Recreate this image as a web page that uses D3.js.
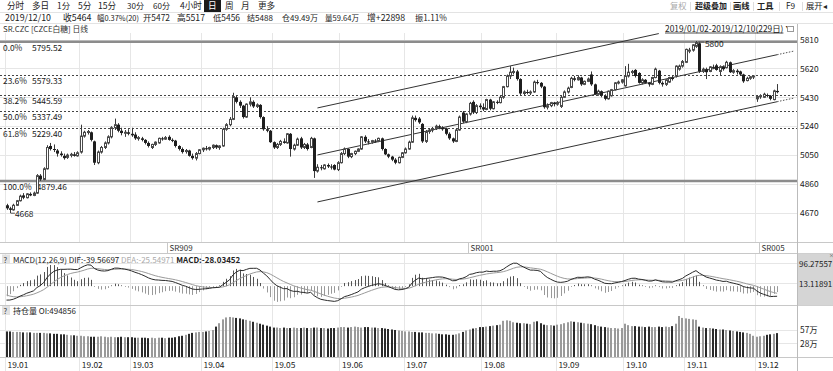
<!DOCTYPE html>
<html><head><meta charset="utf-8">
<script src="https://cdn.jsdelivr.net/npm/d3@7/dist/d3.min.js"></script>
<style>
html,body{margin:0;padding:0;background:#fff;}
svg{display:block;font-family:"Noto Sans CJK SC","Noto Sans",sans-serif;}
</style></head><body>
<svg id="c" width="833" height="371"></svg>
<script>
// ---------- DATA ----------
const monthLabels = ['19.01','19.02','19.03','19.04','19.05','19.06','19.07','19.08','19.09','19.10','19.11','19.12'];
const monthStart  = [0,22,37,58,79,99,118,141,163,183,201,222];

const opens = [
 4720,4700,4690,4720,4750,4785,4770,4795,4785,4800,4915,4890,4960,5110,5090,5080,5060,5045,5035,5050,5055,5045,
 5070,5175,5200,5200,5140,5000,5070,5100,5130,5170,5230,5250,5210,5195,5200,
 5190,5185,5160,5160,5150,5130,5100,5120,5130,5160,5155,5170,5150,5145,5110,5090,5075,5080,5045,5030,5060,
 5085,5095,5090,5100,5115,5100,5110,5220,5250,5285,5430,5400,5375,5300,5385,5400,5370,5380,5300,5220,5210,
 5135,5100,5120,5140,5130,5190,5090,5115,5160,5100,5120,5100,5160,4945,4970,4960,4985,4975,4985,4955,
 5000,5060,5090,5040,5060,5075,5090,5170,5140,5135,5145,5140,5160,5090,5055,5040,5020,5000,5035,
 5065,5090,5135,5295,5290,5255,5140,5205,5215,5225,5240,5230,5225,5190,5160,5140,5215,5330,5270,5320,5400,5330,5375,
 5365,5350,5415,5355,5400,5395,5430,5500,5570,5595,5600,5550,5455,5465,5460,5465,5530,5525,5500,5365,5375,5395,
 5385,5370,5430,5465,5495,5555,5545,5560,5515,5535,5580,5515,5450,5470,5440,5420,5440,5480,5525,5530,
 5505,5570,5595,5610,5590,5525,5545,5525,5515,5560,5605,5525,5515,5530,5560,5570,5615,5635,
 5660,5735,5740,5765,5785,5600,5615,5600,5630,5640,5600,5630,5625,5660,5595,5605,5600,5580,5540,5555,5565,
 5420,5435,5430,5445,5440,5415,5472];
const highs = [
 4730,4710,4730,4755,4790,4800,4800,4805,4810,4925,4925,4970,5115,5130,5120,5090,5075,5060,5060,5065,5070,5075,
 5250,5210,5215,5205,5145,5080,5110,5140,5180,5240,5290,5260,5230,5215,5220,
 5230,5200,5175,5170,5155,5140,5125,5140,5165,5170,5175,5180,5160,5150,5115,5100,5090,5085,5060,5070,5090,
 5100,5110,5105,5120,5120,5115,5230,5260,5300,5460,5440,5410,5380,5390,5430,5410,5390,5385,5305,5240,5215,
 5140,5130,5150,5160,5195,5195,5125,5165,5170,5130,5130,5170,5165,4990,4985,4990,4995,4990,4990,5010,
 5070,5100,5095,5065,5080,5095,5175,5180,5155,5150,5155,5165,5165,5095,5060,5045,5030,5040,5070,
 5100,5145,5310,5310,5300,5260,5215,5225,5235,5250,5250,5240,5230,5200,5165,5225,5310,5340,5325,5400,5410,5385,5390,
 5390,5420,5420,5405,5410,5440,5505,5580,5635,5625,5610,5555,5475,5480,5475,5540,5545,5530,5505,5390,5400,5400,
 5405,5440,5475,5500,5565,5570,5575,5565,5540,5560,5600,5520,5480,5475,5450,5475,5485,5530,5540,5550,
 5635,5650,5610,5615,5595,5555,5550,5530,5565,5625,5610,5535,5550,5565,5570,5640,5645,5675,
 5750,5755,5780,5800,5795,5625,5625,5635,5645,5650,5640,5640,5670,5665,5615,5615,5605,5585,5565,5570,5575,
 5445,5450,5460,5455,5445,5480,5517];
const lows = [
 4690,4668,4685,4715,4745,4760,4765,4780,4780,4795,4880,4885,4955,5080,5070,5040,5040,5020,5025,5035,5040,5040,
 5060,5165,5185,5140,4985,4990,5060,5090,5120,5160,5215,5200,5180,5170,5180,
 5170,5150,5145,5140,5120,5100,5090,5110,5125,5145,5150,5145,5135,5100,5080,5060,5060,5040,5020,5015,5055,
 5070,5080,5080,5090,5090,5085,5105,5210,5240,5280,5390,5360,5290,5295,5370,5360,5360,5290,5210,5200,5130,
 5090,5090,5110,5125,5125,5040,5080,5110,5090,5090,5080,5095,4900,4935,4950,4955,4965,4955,4950,4945,
 4995,5050,5030,5030,5050,5070,5085,5130,5120,5125,5130,5135,5080,5050,5030,5010,4990,4995,5030,
 5060,5085,5130,5270,5255,5130,5130,5190,5200,5215,5220,5210,5180,5150,5130,5135,5210,5260,5260,5310,5320,5320,5350,
 5340,5345,5345,5350,5385,5390,5420,5495,5550,5580,5540,5445,5440,5450,5445,5460,5515,5490,5355,5350,5365,5370,
 5375,5360,5425,5455,5490,5535,5540,5505,5510,5530,5505,5445,5440,5430,5410,5415,5435,5475,5515,5520,
 5500,5560,5580,5560,5520,5515,5520,5500,5510,5555,5515,5500,5505,5525,5540,5560,5605,5625,
 5655,5720,5730,5755,5590,5590,5550,5595,5615,5605,5575,5605,5620,5590,5585,5580,5570,5525,5535,5545,5550,
 5400,5420,5425,5430,5410,5410,5456];
const closes = [
 4700,4690,4720,4750,4780,4770,4795,4785,4800,4915,4890,4960,5100,5090,5085,5060,5050,5030,5050,5055,5045,5065,
 5175,5200,5205,5150,5000,5070,5100,5130,5170,5230,5250,5210,5195,5200,5190,
 5180,5160,5165,5150,5130,5110,5120,5135,5160,5155,5165,5150,5145,5110,5090,5070,5080,5045,5030,5060,5085,
 5095,5090,5100,5115,5100,5110,5220,5250,5285,5435,5400,5375,5300,5385,5400,5370,5380,5300,5220,5210,5135,
 5100,5120,5140,5130,5190,5090,5115,5155,5100,5120,5090,5160,4945,4970,4965,4985,4975,4970,4955,5000,
 5060,5090,5040,5060,5075,5090,5170,5140,5135,5145,5140,5160,5090,5055,5040,5020,5000,5035,5065,
 5090,5135,5295,5280,5265,5140,5205,5215,5225,5240,5230,5220,5190,5160,5140,5215,5300,5270,5320,5390,5330,5375,5365,
 5350,5415,5355,5400,5395,5430,5500,5570,5595,5600,5550,5455,5465,5460,5465,5530,5525,5500,5365,5375,5395,5385,
 5395,5430,5465,5490,5555,5545,5560,5515,5535,5550,5515,5450,5470,5440,5420,5470,5480,5525,5530,5545,
 5570,5595,5600,5570,5525,5545,5525,5515,5560,5615,5525,5515,5545,5560,5550,5635,5635,5665,
 5745,5740,5775,5790,5600,5615,5595,5630,5625,5610,5630,5615,5660,5595,5605,5595,5580,5535,5555,5565,5570,
 5435,5440,5450,5440,5420,5472,5464];
// open interest, unit 万
const openInterest = [
 53,53,52,52,52,51,51,51,50,50,50,50,49,49,48,48,47,47,46,45,45,44,
 44,43,43,42,42,42,43,42,41,42,41,41,42,41,41,
 41,40,40,40,40,39,40,39,40,40,39,40,40,41,43,44,46,48,50,51,52,
 52,53,54,56,63,70,78,82,83,82,81,80,78,77,75,73,71,69,67,65,63,
 61,61,60,61,60,60,61,60,60,61,60,60,61,61,60,60,59,60,60,61,
 62,62,61,62,63,62,61,62,62,61,61,60,60,59,58,57,56,55,54,
 53,53,52,52,51,51,50,50,49,49,48,47,47,46,46,47,49,52,55,57,59,60,62,
 62,63,64,65,66,67,75,76,75,72,71,70,70,69,68,73,74,70,67,66,66,65,
 67,68,70,72,74,73,72,71,70,69,68,66,64,63,62,61,60,60,59,60,
 69,66,64,64,63,63,62,63,62,62,63,62,63,62,64,69,85,81,
 80,79,78,77,63,61,60,60,59,58,57,57,56,55,54,53,52,51,50,48,44,
 42,43,44,46,47,48,49.49];

const priceTicks = [5810,5620,5430,5240,5050,4860,4670];
const fibPct = ['0.0%','23.6%','38.2%','50.0%','61.8%','100.0%'];
const fibVal = [5795.52,5579.33,5445.59,5337.49,5229.40,4879.46];
const contractNames = ['SR909','SR001','SR005'];
const contractStart = [48,137,223];
const macdTicks = [96.27557,13.11891];
const oiTicks = [57,28];
const oiTickLabels = ['57万','28万'];
// regression channel (index, price)
const chanMid   = [[92,5051],[228,5710]];
const chanMidExt= [[228,5710],[233,5734]];
const chanUpper = [[92,5360],[193,5849]];
const chanLower = [[92,4742],[228,5401]];
const chanLowExt= [[228,5401],[233,5425]];
// MACD starting state carried over from 2018
const macdSeed = {ema12Off:40, ema26Off:98, dea:-37};

// [text, left, right]
const toolbarLeft = [['分时',7,25],['多日',32,50],['1分',57,70],['5分',78,92],['15分',98,117],['30分',127,144],['60分',153,170],['4小时',180,203],['日',208,218],['周',225,234],['月',241,250],['更多',258,276]];
const toolbarRight = [['复权',670,687,'#aaa','normal'],['超级叠加',695,727,'#222','bold'],['画线',733,750,'#222','bold'],['工具',757,774,'#222','bold'],['F9',786,796,'#222','normal'],['展开◂',806,832,'#222','normal']];
const infoItems = [['2019/12/10',5,59],['收5464',63,92],['幅0.37%(20)',97,139],['开5472',143,170],['高5517',177,205],['低5456',213,240],['结5488',247,273],['仓49.49万',282,318],['量59.64万',325,359],['增+22898',367,408],['振1.11%',415,447]];

// ---------- LAYOUT ----------
const svg = d3.select('#c');
const R = 797;
const mainTop = 33, mainBot = 242, conBot = 253, macdBot = 305, oiBot = 357;
const X = d3.scaleLinear().domain([0, closes.length-1]).range([6.5, 777.1]);
const Y = d3.scaleLinear().domain([4670,5810]).range([212.9,39.5]);
const YM = d3.scaleLinear().domain([13.11891,96.27557]).range([283,263]);
const YO = d3.scaleLinear().domain([0,57]).range([oiBot,329.5]);
const px = v => Math.round(v)+0.5;

svg.append('rect').attr('width',833).attr('height',371).attr('fill','#fff');

// shrink the font of a text until it fits its span
function fitText(g, d, y, size, fill, weight){
  const t = g.append('text').attr('x',d[1]).attr('y',y).attr('font-size',size).attr('fill',fill||'#222')
    .attr('font-weight',weight||'normal').text(d[0]);
  const w = t.node().getComputedTextLength(), span = d[2]-d[1];
  if (w > span) t.attr('font-size', size*span/w);
  return t;
}

// toolbar
const tb = svg.append('g');
tb.append('rect').attr('x',204).attr('y',0).attr('width',17).attr('height',12).attr('fill','#1a1a1a');
toolbarLeft.forEach(d=>fitText(tb,d,9.3,8.6,d[0]==='日'?'#fff':'#222'));
toolbarRight.forEach(d=>fitText(tb,d,9.3,8.3,d[3],d[4]));
[690,730,753,779,802].forEach(x=>svg.append('line').attr('x1',x+.5).attr('x2',x+.5).attr('y1',2).attr('y2',11).attr('stroke','#ddd'));
svg.append('line').attr('x1',0).attr('x2',833).attr('y1',12.5).attr('y2',12.5).attr('stroke','#e3e3e3');
// info line
const ig = svg.append('g');
infoItems.forEach(d=>fitText(ig,d,21.2,8.8,'#222'));
svg.append('line').attr('x1',0).attr('x2',833).attr('y1',23.5).attr('y2',23.5).attr('stroke','#e3e3e3');

// month grid lines
const grid = svg.append('g').attr('stroke','#e6e6e6');
monthStart.forEach(i=>{
  const x = px(X(i)-1.7);
  grid.append('line').attr('x1',x).attr('x2',x).attr('y1',mainTop).attr('y2',mainBot);
  grid.append('line').attr('x1',x).attr('x2',x).attr('y1',conBot).attr('y2',371);
});
// price grid
priceTicks.forEach(v=>grid.append('line').attr('x1',0).attr('x2',R).attr('y1',px(Y(v))).attr('y2',px(Y(v))));
macdTicks.forEach(v=>grid.append('line').attr('x1',0).attr('x2',R).attr('y1',px(YM(v))).attr('y2',px(YM(v))));
oiTicks.forEach(v=>grid.append('line').attr('x1',0).attr('x2',R).attr('y1',px(YO(v))).attr('y2',px(YO(v))));

// title
svg.append('text').attr('x',3).attr('y',32).attr('font-size',7.8).attr('fill','#333').text('SR.CZC [CZCE白糖] 日线');

// panel separators
const sep = svg.append('g').attr('stroke','#c8c8c8');
[mainBot,conBot,macdBot,oiBot].forEach(y=>sep.append('line').attr('x1',0).attr('x2',833).attr('y1',y+.5).attr('y2',y+.5));
svg.append('rect').attr('x',R).attr('y',conBot+0.5).attr('width',36).attr('height',macdBot-conBot).attr('fill','#d5d5d5');
svg.append('line').attr('x1',R+.5).attr('x2',R+.5).attr('y1',24).attr('y2',371).attr('stroke','#bbb');

// fib lines
fibVal.forEach((v,k)=>{
  const y = Y(v);
  const solid = (k===0||k===fibVal.length-1);
  svg.append('line').attr('x1',0).attr('x2',R).attr('y1',solid?y:px(y)).attr('y2',solid?y:px(y))
    .attr('stroke',solid?'#8c8c8c':'#444').attr('stroke-width',solid?2.6:1)
    .attr('stroke-dasharray',solid?null:'2,2');
  const t1 = svg.append('text').attr('x',3).attr('y',y+9).attr('font-size',8.4).attr('fill','#222').text(fibPct[k]);
  const w = t1.node().getComputedTextLength();
  svg.append('text').attr('x',Math.max(32,3+w+5)).attr('y',y+9).attr('font-size',8.4).attr('fill','#222').text(fibVal[k].toFixed(2));
});

// channel
const cl = d3.line().x(d=>X(d[0])).y(d=>Y(d[1]));
[chanMid,chanUpper,chanLower].forEach(s=>svg.append('path').attr('d',cl(s)).attr('fill','none').attr('stroke','#333').attr('stroke-width',1));
[chanMidExt,chanLowExt].forEach(s=>svg.append('path').attr('d',cl(s)).attr('fill','none').attr('stroke','#555').attr('stroke-width',1).attr('stroke-dasharray','1.5,1.5'));

// candles
const data = closes.map((c,i)=>({i,o:opens[i],h:highs[i],l:lows[i],c}));
const cg = svg.append('g').selectAll('g').data(data).join('g');
cg.append('line').attr('x1',d=>Math.round(X(d.i))+0.5).attr('x2',d=>Math.round(X(d.i))+0.5)
  .attr('y1',d=>Y(d.h)).attr('y2',d=>Y(d.l)).attr('stroke','#3a3a3a').attr('stroke-width',1);
cg.append('rect')
  .attr('x',d=>d.c>=d.o? Math.round(X(d.i))-0.5 : Math.round(X(d.i))-1)
  .attr('width',d=>d.c>=d.o?2:3)
  .attr('y',d=>Y(Math.max(d.o,d.c)))
  .attr('height',d=>Math.max(1,Math.abs(Y(d.o)-Y(d.c))))
  .attr('fill',d=>d.c>=d.o?'#fff':'#1e1e1e')
  .attr('stroke',d=>d.c>=d.o?'#4a4a4a':'none').attr('stroke-width',1);

// extreme labels
const iMax = d3.maxIndex(highs), iMin = d3.minIndex(lows);
svg.append('line').attr('x1',X(iMax)+2).attr('x2',X(iMax)+8).attr('y1',Y(highs[iMax])+1).attr('y2',Y(highs[iMax])+1).attr('stroke','#555');
svg.append('text').attr('x',X(iMax)+9).attr('y',Y(highs[iMax])+5.5).attr('font-size',8.4).attr('fill','#222').text(highs[iMax]);
svg.append('line').attr('x1',X(iMin)+1).attr('x2',X(iMin)+5).attr('y1',Y(lows[iMin])).attr('y2',Y(lows[iMin])).attr('stroke','#555');
svg.append('text').attr('x',X(iMin)+5).attr('y',Y(lows[iMin])+3.5).attr('font-size',8.4).attr('fill','#222').text(lows[iMin]);

// date range label
const dr = svg.append('text').attr('x',665).attr('y',31.5).attr('font-size',8.4).attr('fill','#222').text('2019/01/02-2019/12/10(229日)');
const drw = dr.node().getComputedTextLength();
svg.append('line').attr('x1',665).attr('x2',665+drw).attr('y1',33).attr('y2',33).attr('stroke','#222').attr('stroke-width',0.8);
svg.append('text').attr('x',667+drw).attr('y',31).attr('font-size',6.5).attr('fill','#333').text('▼');
svg.append('rect').attr('x',787.5).attr('y',26.5).attr('width',6).attr('height',5).attr('fill','#fff').attr('stroke','#999');

// price axis labels
svg.append('g').attr('font-size',8.4).attr('fill','#222').selectAll('text').data(priceTicks).join('text')
  .attr('x',800).attr('y',d=>Y(d)+3.2).text(d=>d);

// contract row
contractNames.forEach((n,k)=>{
  const x = px(X(contractStart[k])-1.7);
  svg.append('line').attr('x1',x).attr('x2',x).attr('y1',mainBot).attr('y2',conBot).attr('stroke','#c8c8c8');
  svg.append('text').attr('x',x+2).attr('y',250.5).attr('font-size',8).attr('fill','#333').text(n);
});

// MACD computation (12,26,9)
const a12 = 2/13, a26 = 2/27, a9 = 2/10;
let e12 = closes[0]+macdSeed.ema12Off, e26 = closes[0]+macdSeed.ema26Off, dea = macdSeed.dea;
const difArr=[], deaArr=[], histArr=[];
closes.forEach((c,i)=>{
  if(i>0){ e12 = e12 + a12*(c-e12); e26 = e26 + a26*(c-e26); }
  const dif = e12-e26;
  if(i>0) dea = dea + a9*(dif-dea);
  difArr.push(dif); deaArr.push(dea); histArr.push(2*(dif-dea));
});
const mg = svg.append('g');
mg.selectAll('line').data(histArr).join('line')
  .attr('x1',(d,i)=>Math.round(X(i))+0.5).attr('x2',(d,i)=>Math.round(X(i))+0.5)
  .attr('y1',YM(0)).attr('y2',d=>Math.abs(YM(d)-YM(0))<0.8?YM(0)+ (d>=0?-0.8:0.8):YM(d))
  .attr('stroke',d=>d>=0?'#555':'#999').attr('stroke-width',1);
const ml = d3.line().x((d,i)=>X(i)).y(d=>YM(d));
svg.append('path').attr('d',ml(deaArr)).attr('fill','none').attr('stroke','#9a9a9a').attr('stroke-width',1);
svg.append('path').attr('d',ml(difArr)).attr('fill','none').attr('stroke','#2a2a2a').attr('stroke-width',1);

// MACD header
function qbox(y){
  svg.append('rect').attr('x',2).attr('y',y-8).attr('width',8).attr('height',9).attr('fill','#e2e2e2');
  svg.append('text').attr('x',3.5).attr('y',y).attr('font-size',7.5).attr('fill','#333').text('?');
}
qbox(262.5);
const mh = svg.append('text').attr('x',13).attr('y',262.5).attr('font-size',8).attr('fill','#222');
mh.append('tspan').text('MACD(12,26,9) DIF:-39.56697 ');
mh.append('tspan').attr('fill','#aaa').text('DEA:-25.54971 ');
mh.append('tspan').attr('font-weight','bold').text('MACD:-28.03452');
svg.append('g').attr('font-size',8).attr('fill','#222').selectAll('text').data(macdTicks).join('text')
  .attr('x',799).attr('y',d=>YM(d)+4.2).text(d=>d.toFixed(5));
svg.append('text').attr('x',829).attr('y',256.8).attr('font-size',5).attr('fill','#444').text('×');

// OI bars
svg.append('g').selectAll('rect').data(openInterest).join('rect')
  .attr('x',(d,i)=>Math.round(X(i))-1).attr('width',2)
  .attr('y',d=>YO(d)).attr('height',d=>oiBot-YO(d))
  .attr('fill',(d,i)=>closes[i]>=opens[i]?'#9a9a9a':'#2a2a2a');
qbox(314);
svg.append('text').attr('x',13).attr('y',314).attr('font-size',8).attr('fill','#222').text('持仓量 OI:494856');
svg.append('g').attr('font-size',8.4).attr('fill','#222').selectAll('text').data(oiTickLabels).join('text')
  .attr('x',800).attr('y',(d,k)=>YO(oiTicks[k])+3.2).text(d=>d);

// date axis
svg.append('g').attr('font-size',8.4).attr('fill','#222').selectAll('text').data(monthLabels).join('text')
  .attr('x',(d,k)=>X(monthStart[k])+1).attr('y',368).text(d=>d);
</script>
</body></html>
